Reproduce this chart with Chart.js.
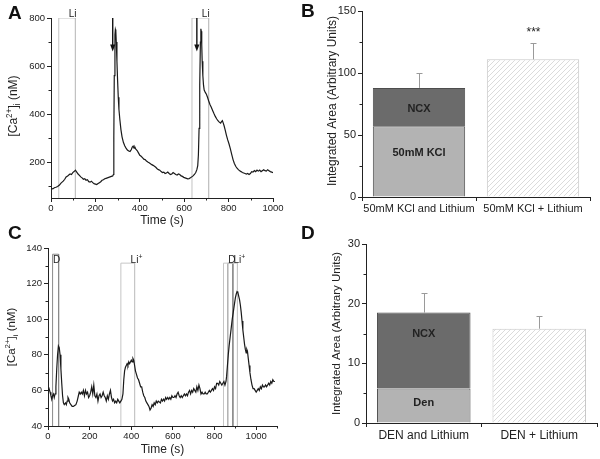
<!DOCTYPE html>
<html>
<head>
<meta charset="utf-8">
<script src="https://cdn.jsdelivr.net/npm/chart.js@4.4.0/dist/chart.umd.min.js"></script>
<style>
  body { margin: 0; background: #fff; }
  #page { position: relative; width: 600px; height: 459px; overflow: hidden; background: #fff; }
  .panel { position: absolute; }
  .letter { position: absolute; font-family: "Liberation Sans", Arial, sans-serif; font-weight: bold; font-size: 19px; line-height: 19px; color: #111; }
</style>
</head>
<body>
<div id="page">
  <div class="panel" style="left:0;top:0"><canvas id="chartA" width="300" height="230"></canvas></div>
  <div class="panel" style="left:300px;top:0"><canvas id="chartB" width="300" height="230"></canvas></div>
  <div class="panel" style="left:0;top:230px"><canvas id="chartC" width="300" height="229"></canvas></div>
  <div class="panel" style="left:300px;top:230px"><canvas id="chartD" width="300" height="229"></canvas></div>
  <div class="letter" style="left:8px;top:3px">A</div>
  <div class="letter" style="left:301px;top:1px">B</div>
  <div class="letter" style="left:8px;top:223px">C</div>
  <div class="letter" style="left:301px;top:223px">D</div>
</div>
<script>
/* ---------- data ---------- */

// A: trace with KCl pulses (arrows) and Li windows
var timeA = [0, 8, 15, 22, 30, 38, 45, 50, 55, 62, 68, 75, 80, 86, 92, 98, 104, 110, 116, 122,
  128, 134, 140, 146, 152, 158, 164, 170, 176, 182, 188, 194, 200, 206, 212, 218, 224, 230, 236, 242,
  248, 254, 260, 266, 272, 278, 281, 283, 285, 288, 290, 292, 294, 297, 300, 303, 306, 310, 315, 320,
  326, 332, 338, 344, 350, 356, 362, 366, 370, 374, 378, 382, 388, 394, 400, 406, 412, 418, 424, 430,
  436, 442, 448, 454, 460, 466, 472, 478, 484, 490, 496, 502, 508, 514, 520, 526, 532, 538, 544, 550,
  556, 562, 568, 574, 580, 586, 592, 598, 604, 610, 616, 622, 628, 634, 640, 646, 652, 657, 661, 664,
  667, 670, 673, 675, 677, 679, 681, 684, 687, 690, 695, 700, 705, 710, 716, 722, 728, 734, 740, 746,
  752, 758, 764, 768, 772, 776, 780, 785, 790, 796, 802, 808, 814, 820, 826, 832, 838, 844, 850, 856,
  862, 868, 874, 880, 886, 892, 898, 904, 910, 916, 922, 928, 934, 940, 946, 952, 958, 964, 970, 976,
  982, 988, 994, 1000];
var caA = [90, 88, 93, 95, 98, 104, 112, 116, 120, 128, 138, 142, 146, 150, 148, 156, 160, 166, 158, 150,
  144, 138, 134, 128, 130, 124, 126, 118, 116, 120, 114, 110, 108, 106, 110, 114, 118, 124, 126, 130,
  132, 134, 136, 138, 140, 142, 148, 300, 560, 730, 752, 745, 700, 620, 540, 470, 420, 378, 335, 305,
  282, 268, 258, 250, 246, 244, 252, 262, 266, 258, 262, 254, 248, 238, 228, 224, 218, 212, 210, 204,
  200, 197, 193, 189, 186, 182, 178, 172, 168, 166, 160, 156, 158, 152, 154, 158, 152, 148, 150, 156,
  152, 148, 146, 150, 148, 142, 140, 136, 134, 132, 130, 131, 134, 138, 142, 148, 156, 168, 185, 230,
  340, 520, 700, 755, 745, 690, 620, 560, 520, 500, 490, 482, 470, 455, 440, 428, 415, 402, 390, 380,
  372, 366, 362, 368, 372, 362, 350, 332, 312, 292, 275, 255, 232, 210, 194, 182, 174, 168, 163, 160,
  156, 154, 152, 150, 152, 148, 152, 160, 158, 164, 160, 166, 162, 166, 160, 164, 168, 164, 162, 168,
  164, 160, 158, 155];
var xTicksA = [0, 200, 400, 600, 800, 1000];
var yTicksA = [200, 400, 600, 800];
var liBoxesA = [[35, 110], [635, 710]];
var arrowTimesA = [278, 657];

// B: integrated area, 50mM KCl
var catB = ['50mM KCl and Lithium', '50mM KCl + Lithium'];
var kclB = [57, null];
var ncxB = [31, null];
var liB = [null, 111];
var errB = [12, 13];
var sigB = ['', '***'];

// C: trace with DEN and Li windows
var timeC = [0, 5, 10, 14, 18, 22, 26, 30, 34, 38, 42, 46, 50, 54, 58, 62, 66, 70, 74, 78,
  84, 88, 92, 96, 100, 104, 110, 116, 122, 128, 134, 140, 146, 150, 155, 160, 165, 170, 175, 180,
  185, 190, 195, 200, 205, 210, 215, 220, 225, 230, 235, 240, 245, 250, 255, 260, 265, 270, 275, 280,
  285, 290, 295, 300, 305, 310, 315, 320, 325, 330, 335, 340, 345, 350, 355, 360, 364, 368, 372, 376,
  380, 384, 388, 392, 396, 400, 404, 408, 412, 416, 420, 425, 430, 435, 440, 445, 450, 455, 460, 465,
  470, 475, 480, 485, 490, 495, 500, 505, 510, 515, 520, 525, 530, 540, 545, 550, 555, 560, 565, 570,
  575, 580, 585, 590, 595, 600, 605, 610, 615, 620, 625, 630, 635, 640, 645, 650, 655, 660, 665, 670,
  675, 680, 685, 690, 695, 700, 705, 710, 715, 720, 725, 730, 735, 740, 745, 750, 755, 760, 765, 770,
  775, 780, 785, 790, 795, 800, 805, 810, 815, 820, 825, 830, 835, 840, 845, 850, 855, 858, 862, 866,
  870, 875, 880, 885, 890, 895, 900, 904, 908, 912, 916, 920, 924, 928, 932, 936, 940, 944, 948, 952,
  955, 958, 962, 966, 970, 975, 980, 985, 990, 995, 1000, 1005, 1010, 1015, 1020, 1025, 1030, 1035, 1040, 1045,
  1050, 1055, 1060, 1065, 1070, 1075, 1080, 1085, 1090];
var caC = [60, 61, 59, 57, 55, 57, 58, 56, 58, 62, 72, 80, 85, 84, 80, 72, 64, 57, 53, 52,
  53, 52, 54, 56, 55, 53, 52, 51, 51, 51.5, 52, 54, 57, 59, 58, 59, 58, 60, 57, 60,
  58, 59, 56, 57, 59, 62, 58, 63, 57, 56, 58, 54, 57, 58, 56, 57, 59, 57, 56, 54,
  57, 55, 58, 60, 56, 54, 55, 53, 54, 53, 55, 54, 53, 54, 55, 58, 66, 71, 73, 74,
  75, 74, 76, 75, 76, 77, 76, 78, 77, 74, 71, 69, 67, 66, 64, 62, 62, 59, 57, 56,
  54, 53, 52, 51, 49, 50, 52, 51, 53, 52, 54, 53, 54, 53, 55, 54, 55, 54, 56, 55,
  56, 55, 56, 55, 57, 56, 56, 57, 56, 58, 59, 57, 56, 57, 56, 57, 58, 57, 58, 57,
  59, 60, 58, 60, 59, 61, 60, 59, 62, 60, 63, 61, 58, 59, 58, 58, 59, 58, 58, 59,
  60, 59, 60, 61, 60, 62, 61, 64, 64, 63, 65, 64, 63, 64, 65, 63, 65, 68, 74, 80,
  85, 90, 95, 100, 104, 108, 112, 114, 115.5, 115, 113, 111, 108, 104, 99, 94, 90, 86, 83, 81,
  83, 82, 78, 74, 70, 66, 63, 61, 61, 60, 59, 60, 61, 60, 62, 61, 63, 62, 62, 63,
  62, 63, 64, 63, 65, 64, 66, 65, 65];
var xTicksC = [0, 200, 400, 600, 800, 1000];
var yTicksC = [40, 60, 80, 100, 120, 140];
var dBoxesC = [[22, 51, 136.5], [864, 888, 131.5]];
var liBoxesC = [[350, 416, 131.5], [843, 910, 131.5]];

// D: integrated area, DEN
var catD = ['DEN and Lithium', 'DEN + Lithium'];
var denD = [5.8, null];
var ncxD = [12.7, null];
var liD = [null, 15.8];
var errD = [3.3, 2.2];

/* ---------- helpers ---------- */

var FONT = '"Liberation Sans", Arial, sans-serif';
var INK = '#222';
Chart.defaults.font.family = FONT;
Chart.defaults.color = INK;

function pts(xs, ys) {
  return xs.map(function(x, i) { return { x: x, y: ys[i] }; });
}

function boxPts(l, r, top, bottom) {
  return [{ x: l, y: bottom }, { x: l, y: top }, { x: r, y: top }, { x: r, y: bottom }];
}

function boxSet(data, color) {
  return { data: data, borderColor: color, borderWidth: 1, pointRadius: 0, tension: 0, fill: false };
}

// draw text pieces with sup/sub scripts, optionally rotated
function drawRich(ctx, parts, x, y, size, align, rotate, weight) {
  var small = size * 0.68;
  ctx.save();
  ctx.translate(x, y);
  if (rotate) ctx.rotate(-Math.PI / 2);
  ctx.fillStyle = INK;
  ctx.textBaseline = 'alphabetic';
  ctx.textAlign = 'left';
  var widths = [], total = 0;
  parts.forEach(function(p) {
    ctx.font = (weight || '') + ' ' + (p.sup || p.sub ? small : size) + 'px ' + FONT;
    var w = ctx.measureText(p.t).width;
    widths.push(w); total += w;
  });
  var cx = align === 'center' ? -total / 2 : align === 'right' ? -total : 0;
  parts.forEach(function(p, i) {
    ctx.font = (weight || '') + ' ' + (p.sup || p.sub ? small : size) + 'px ' + FONT;
    var dy = p.sup ? -size * 0.42 : p.sub ? size * 0.25 : 0;
    ctx.fillText(p.t, cx, dy);
    cx += widths[i];
  });
  ctx.restore();
}

var CA_LABEL = [{ t: '[Ca' }, { t: '2+', sup: true }, { t: ']' }, { t: 'i', sub: true }, { t: ' (nM)' }];

function yTitlePlugin(parts, x, size, dy) {
  return {
    id: 'yTitle',
    afterDraw: function(chart) {
      var a = chart.chartArea;
      drawRich(chart.ctx, parts, x, (a.top + a.bottom) / 2 + (dy || 0), size, 'center', true);
    }
  };
}

// minor ticks between the majors (Origin style)
function minorTickPlugin(xStep, yStep) {
  return {
    id: 'minorTicks',
    afterDraw: function(chart) {
      var ctx = chart.ctx, a = chart.chartArea;
      ctx.save();
      ctx.strokeStyle = INK; ctx.lineWidth = 1;
      ctx.beginPath();
      [['x', xStep], ['y', yStep]].forEach(function(s) {
        if (!s[1]) return;
        var sc = chart.scales[s[0]];
        var majors = sc.ticks.map(function(t) { return t.value; });
        for (var v = Math.ceil(sc.min / s[1]) * s[1]; v <= sc.max + 1e-9; v += s[1]) {
          if (majors.indexOf(v) >= 0) continue;
          var p = Math.round(sc.getPixelForValue(v)) + 0.5;
          if (s[0] === 'x') { ctx.moveTo(p, a.bottom); ctx.lineTo(p, a.bottom + 2.5); }
          else { ctx.moveTo(a.left, p); ctx.lineTo(a.left - 2.5, p); }
        }
      });
      ctx.stroke();
      ctx.restore();
    }
  };
}

function fixedTicks(list) {
  return function(scale) { scale.ticks = list.map(function(v) { return { value: v }; }); };
}

function plainLabel(v) { return String(v); }

function traceScales(xMin, xMax, xTicks, yMin, yMax, yTicks, yWidth, xHeight) {
  var axis = { display: true, drawOnChartArea: false, drawTicks: true, tickLength: 4, color: INK };
  return {
    x: {
      type: 'linear', min: xMin, max: xMax,
      afterBuildTicks: fixedTicks(xTicks),
      afterFit: function(s) { s.height = xHeight; },
      grid: axis, border: { display: true, color: INK, width: 1 },
      ticks: { font: { size: 9.5 }, padding: 1, maxRotation: 0, color: INK, callback: plainLabel },
      title: { display: true, text: 'Time (s)', font: { size: 12 }, padding: { top: 0, bottom: 2 }, color: INK }
    },
    y: {
      type: 'linear', min: yMin, max: yMax,
      afterBuildTicks: fixedTicks(yTicks),
      afterFit: function(s) { s.width = yWidth; },
      grid: axis, border: { display: true, color: INK, width: 1 },
      ticks: { font: { size: 9.5 }, padding: 2, color: INK, callback: plainLabel }
    }
  };
}

var traceLine = { borderColor: '#1a1a1a', borderWidth: 1.2, pointRadius: 0, tension: 0, fill: false };

/* ---------- A ---------- */

var setsA = [Object.assign({ data: pts(timeA, caA) }, traceLine)];
liBoxesA.forEach(function(b) { setsA.push(boxSet(boxPts(b[0], b[1], 800, 50), '#c2c2c2')); });

var markersA = {
  id: 'markersA',
  afterDatasetsDraw: function(chart) {
    var ctx = chart.ctx, xs = chart.scales.x, ys = chart.scales.y;
    liBoxesA.forEach(function(b) {
      drawRich(ctx, [{ t: 'Li' }], xs.getPixelForValue(b[1]) + 1, ys.getPixelForValue(800) - 1.5, 10, 'right');
    });
    ctx.save();
    ctx.strokeStyle = '#111'; ctx.fillStyle = '#111'; ctx.lineWidth = 1.4;
    arrowTimesA.forEach(function(t) {
      var x = xs.getPixelForValue(t), y0 = ys.getPixelForValue(800), y1 = ys.getPixelForValue(660);
      ctx.beginPath(); ctx.moveTo(x, y0); ctx.lineTo(x, y1 - 5); ctx.stroke();
      ctx.beginPath(); ctx.moveTo(x - 2.6, y1 - 7); ctx.lineTo(x + 2.6, y1 - 7); ctx.lineTo(x, y1); ctx.closePath(); ctx.fill();
    });
    ctx.restore();
  }
};

new Chart(document.getElementById('chartA'), {
  type: 'line',
  data: { datasets: setsA },
  options: {
    responsive: false, animation: false,
    layout: { padding: { left: 0, right: 27, top: 18, bottom: 0 } },
    plugins: { legend: { display: false }, tooltip: { enabled: false } },
    scales: traceScales(0, 1000, xTicksA, 50, 800, yTicksA, 51, 32)
  },
  plugins: [markersA, minorTickPlugin(100, 100), yTitlePlugin(CA_LABEL, 17, 12, -2)]
});

/* ---------- C ---------- */

var setsC = [Object.assign({ data: pts(timeC, caC) }, traceLine)];
liBoxesC.forEach(function(b) { setsC.push(boxSet(boxPts(b[0], b[1], b[2], 40), '#c6c6c6')); });
dBoxesC.forEach(function(b) { setsC.push(boxSet(boxPts(b[0], b[1], b[2], 40), '#8a8a8a')); });

var markersC = {
  id: 'markersC',
  afterDatasetsDraw: function(chart) {
    var ctx = chart.ctx, xs = chart.scales.x, ys = chart.scales.y;
    var base = ys.getPixelForValue(131.5);
    dBoxesC.forEach(function(b) {
      drawRich(ctx, [{ t: 'D' }], xs.getPixelForValue(b[0]) + 0.5, base, 10, 'left');
    });
    liBoxesC.forEach(function(b) {
      drawRich(ctx, [{ t: 'Li' }, { t: '+', sup: true }], xs.getPixelForValue(b[1]) - 4, base, 10, 'left');
    });
  }
};

new Chart(document.getElementById('chartC'), {
  type: 'line',
  data: { datasets: setsC },
  options: {
    responsive: false, animation: false,
    layout: { padding: { left: 0, right: 23, top: 18, bottom: 0 } },
    plugins: { legend: { display: false }, tooltip: { enabled: false } },
    scales: traceScales(0, 1100, xTicksC, 40, 140, yTicksC, 48, 33)
  },
  plugins: [markersC, minorTickPlugin(100, 10), yTitlePlugin(CA_LABEL, 15, 11.5, 0)]
});

/* ---------- B and D (bars) ---------- */

function hatchFor(canvas) {
  var t = document.createElement('canvas');
  t.width = 5; t.height = 5;
  var g = t.getContext('2d');
  g.fillStyle = '#fff'; g.fillRect(0, 0, 5, 5);
  g.strokeStyle = '#d2d2d2'; g.lineWidth = 0.8;
  g.beginPath();
  g.moveTo(0, 5); g.lineTo(5, 0);
  g.moveTo(-1, 1); g.lineTo(1, -1);
  g.moveTo(4, 6); g.lineTo(6, 4);
  g.stroke();
  return canvas.getContext('2d').createPattern(t, 'repeat');
}

function barExtras(series, errs, sig, segLabels) {
  return {
    id: 'barExtras',
    afterDatasetsDraw: function(chart) {
      var ctx = chart.ctx, xs = chart.scales.x, ys = chart.scales.y;
      ctx.save();
      ctx.strokeStyle = '#9a9a9a'; ctx.lineWidth = 1;
      errs.forEach(function(e, i) {
        var tot = 0;
        series.forEach(function(s) { if (s[i] != null) tot += s[i]; });
        var x = Math.round(xs.getPixelForValue(i)) + 0.5;
        var y0 = ys.getPixelForValue(tot), y1 = Math.round(ys.getPixelForValue(tot + e)) + 0.5;
        ctx.beginPath();
        ctx.moveTo(x, y0); ctx.lineTo(x, y1);
        ctx.moveTo(x - 3, y1); ctx.lineTo(x + 3, y1);
        ctx.stroke();
        if (sig && sig[i]) {
          ctx.fillStyle = INK; ctx.font = '12px ' + FONT; ctx.textAlign = 'center'; ctx.textBaseline = 'middle';
          ctx.fillText(sig[i], x, y1 - 11);
        }
      });
      ctx.restore();
      segLabels.forEach(function(l) {
        var x = xs.getPixelForValue(l.i);
        drawRich(chart.ctx, [{ t: l.t }], x, ys.getPixelForValue(l.v) + 4, 11, 'center', false, 'bold');
      });
    }
  };
}

function barScales(max, step, yWidth, xHeight, catSize) {
  var axis = { display: true, drawOnChartArea: false, drawTicks: true, tickLength: 4, color: INK, offset: true };
  return {
    x: {
      stacked: true,
      afterFit: function(s) { s.height = xHeight; },
      grid: axis, border: { display: true, color: INK, width: 1 },
      ticks: { font: { size: catSize }, padding: 1, maxRotation: 0, autoSkip: false, color: INK }
    },
    y: {
      stacked: true, min: 0, max: max,
      afterFit: function(s) { s.width = yWidth; },
      grid: { display: true, drawOnChartArea: false, drawTicks: true, tickLength: 4, color: INK },
      border: { display: true, color: INK, width: 1 },
      ticks: { stepSize: step, font: { size: 11 }, padding: 2, color: INK }
    }
  };
}

function barSet(label, data, bg, border) {
  return { label: label, data: data, backgroundColor: bg, borderColor: border, borderWidth: 1,
    barPercentage: 0.81, categoryPercentage: 1 };
}

var canvasB = document.getElementById('chartB');
new Chart(canvasB, {
  type: 'bar',
  data: {
    labels: catB,
    datasets: [
      barSet('50mM KCl', kclB, '#b3b3b3', '#4d4d4d'),
      barSet('NCX', ncxB, '#6b6b6b', '#4d4d4d'),
      barSet('50mM KCl + Lithium', liB, hatchFor(canvasB), '#c8c8c8')
    ]
  },
  options: {
    responsive: false, animation: false,
    layout: { padding: { left: 0, right: 10, top: 11, bottom: 0 } },
    plugins: { legend: { display: false }, tooltip: { enabled: false } },
    scales: barScales(150, 50, 62, 33, 11)
  },
  plugins: [
    barExtras([kclB, ncxB, liB], errB, sigB, [{ i: 0, v: 71.6, t: 'NCX' }, { i: 0, v: 36, t: '50mM KCl' }]),
    minorTickPlugin(0, 25),
    yTitlePlugin([{ t: 'Integrated Area (Arbitrary Units)' }], 36, 12, -3)
  ]
});

var canvasD = document.getElementById('chartD');
new Chart(canvasD, {
  type: 'bar',
  data: {
    labels: catD,
    datasets: [
      barSet('Den', denD, '#b3b3b3', '#4d4d4d'),
      barSet('NCX', ncxD, '#6b6b6b', '#4d4d4d'),
      barSet('DEN + Lithium', liD, hatchFor(canvasD), '#c8c8c8')
    ]
  },
  options: {
    responsive: false, animation: false,
    layout: { padding: { left: 0, right: 3, top: 14, bottom: 0 } },
    plugins: { legend: { display: false }, tooltip: { enabled: false } },
    scales: barScales(30, 10, 66, 36, 12)
  },
  plugins: [
    barExtras([denD, ncxD, liD], errD, null, [{ i: 0, v: 15.1, t: 'NCX' }, { i: 0, v: 3.5, t: 'Den' }]),
    minorTickPlugin(0, 5),
    yTitlePlugin([{ t: 'Integrated Area (Arbitrary Units)' }], 40, 11.5, 0)
  ]
});
</script>
</body>
</html>
